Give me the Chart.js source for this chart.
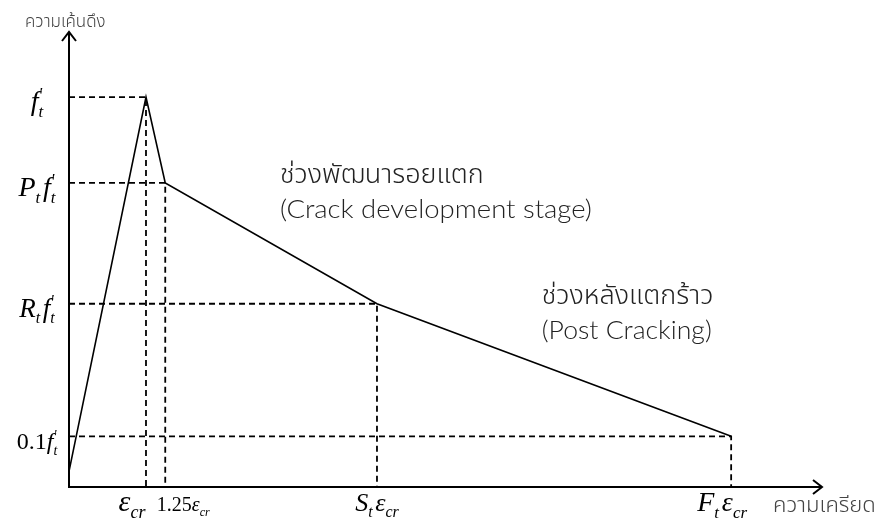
<!DOCTYPE html>
<html lang="th">
<head>
<meta charset="utf-8">
<script src="https://cdn.jsdelivr.net/npm/chart.js@4.4.1/dist/chart.umd.min.js"></script>
<style>
  html, body { margin: 0; padding: 0; background: #ffffff; }
  #contenedor { width: 880px; height: 530px; }
</style>
</head>
<body>
<div id="contenedor"><canvas id="graficoTraccion" width="880" height="530"></canvas></div>
<script>
// deformacion (multiplos de e_cr) y esfuerzo (multiplos de f't)
const deformaciones = [0, 1, 1.25, 4, 8.6];
const esfuerzos = [0.04, 1, 0.78, 0.47, 0.13];

const valoresEtiquetasY = [1, 0.78, 0.47, 0.13];
const etiquetasY = ["f^'_t", "P_tf^'_t", "R_tf^'_t", "0.1f^'_t"];
const valoresEtiquetasX = [1, 1.25, 4, 8.6];
const etiquetasX = ["ε_{cr}", "1.25ε_{cr}", "S_tε_{cr}", "F_tε_{cr}"];

const tituloEjeY = "ความเค้นดึง";
const tituloEjeX = "ความเครียด";
const textosTramos = [
  ["ช่วงพัฒนารอยแตก", "(Crack development stage)"],
  ["ช่วงหลังแตกร้าว", "(Post Cracking)"],
];

// estilos de los rotulos (no son datos)
const TAMANOS_Y = [28, 28, 27, 24];
const TAMANOS_X = [30, 20, 26, 28];
const DESPLAZAMIENTOS_X = [-14, 18, 0, -9];
const ANCLAS_TRAMOS = [
  { x: 2.74, y: 0.80, anchoIngles: 312 },
  { x: 6.14, y: 0.49, anchoIngles: 170 },
];

const FUENTE_TEXTO = '"Noto Sans", "Noto Sans Thai", "Open Sans", sans-serif';
const FUENTE_INGLES = '"Lato", "Open Sans", sans-serif';

const puntosCurva = deformaciones.map((d, i) => ({ x: d, y: esfuerzos[i] }));

const puntosGuia = [];
deformaciones.forEach((d, i) => {
  if (i === 0) return;
  puntosGuia.push({ x: 0, y: esfuerzos[i] });
  puntosGuia.push({ x: d, y: esfuerzos[i] });
  puntosGuia.push({ x: d, y: 0 });
  puntosGuia.push({ x: d, y: null });
});

const partirFormula = (formula) => {
  const partes = [];
  let i = 0;
  while (i < formula.length) {
    const c = formula[i];
    if (c === "^" || c === "_") {
      let grupo;
      if (formula[i + 1] === "{") {
        const fin = formula.indexOf("}", i);
        grupo = formula.slice(i + 2, fin);
        i = fin + 1;
      } else {
        grupo = formula[i + 1];
        i += 2;
      }
      partes.push({ texto: grupo, tipo: c === "^" ? "sup" : "sub" });
    } else {
      partes.push({ texto: c, tipo: "base" });
      i += 1;
    }
  }
  return partes;
};

const fuenteFormula = (texto, tam) => {
  const recta = /^[0-9.]+$/.test(texto);
  return `${recta ? "" : "italic "}${tam}px "Liberation Serif", "DejaVu Serif", serif`;
};

const dibujarFormula = (ctx, formula, x, base, tam, alinear) => {
  const partes = partirFormula(formula);
  const ubicadas = [];
  let cursor = 0;
  let anchoPendiente = 0;

  partes.forEach((p, i) => {
    const t = p.tipo === "base" ? tam : Math.round(tam * 0.6);
    ctx.font = fuenteFormula(p.texto, t);
    const ancho = ctx.measureText(p.texto).width;
    const dy = p.tipo === "sup" ? -tam * 0.4 : p.tipo === "sub" ? tam * 0.24 : 0;
    ubicadas.push({ ...p, t, dx: cursor, dy });
    const apilar = p.tipo === "sup" && partes[i + 1]?.tipo === "sub";
    if (apilar) {
      anchoPendiente = ancho;
    } else {
      cursor += Math.max(ancho, anchoPendiente);
      anchoPendiente = 0;
      // un poco de aire tras el subindice
      if (p.tipo === "sub" && partes[i + 1]) cursor += tam * 0.1;
    }
  });

  const inicio = alinear === "right" ? x - cursor : alinear === "center" ? x - cursor / 2 : x;
  ctx.textAlign = "left";
  ctx.textBaseline = "alphabetic";
  ubicadas.forEach((p) => {
    ctx.font = fuenteFormula(p.texto, p.t);
    ctx.fillText(p.texto, inicio + p.dx, base + p.dy);
  });
};

const textoEstirado = (ctx, texto, x, y, ancho) => {
  const medido = ctx.measureText(texto).width;
  ctx.save();
  ctx.translate(x, y);
  ctx.scale(ancho / medido, 1);
  ctx.fillText(texto, 0, 0);
  ctx.restore();
};

const ejesConFlechas = {
  id: "ejesConFlechas",
  afterDatasetsDraw(chart) {
    const { ctx, scales: { x, y } } = chart;
    const x0 = x.getPixelForValue(0);
    const y0 = y.getPixelForValue(0);
    const xFin = x.getPixelForValue(x.max);
    const yFin = y.getPixelForValue(y.max);

    ctx.save();
    ctx.strokeStyle = "#000000";
    ctx.lineWidth = 2;
    ctx.beginPath();
    ctx.moveTo(x0, yFin);
    ctx.lineTo(x0, y0);
    ctx.lineTo(xFin, y0);
    ctx.stroke();

    ctx.beginPath();
    ctx.moveTo(x0 - 7, yFin + 9);
    ctx.lineTo(x0, yFin);
    ctx.lineTo(x0 + 7, yFin + 9);
    ctx.moveTo(xFin - 9, y0 - 7);
    ctx.lineTo(xFin, y0);
    ctx.lineTo(xFin - 9, y0 + 7);
    ctx.stroke();
    ctx.restore();
  },
};

const rotulos = {
  id: "rotulos",
  afterDraw(chart) {
    const { ctx, scales: { x, y } } = chart;
    const x0 = x.getPixelForValue(0);
    const y0 = y.getPixelForValue(0);

    ctx.save();
    ctx.fillStyle = "#000000";

    etiquetasY.forEach((formula, i) => {
      const py = y.getPixelForValue(valoresEtiquetasY[i]);
      dibujarFormula(ctx, formula, x0 - 32, py + 13, TAMANOS_Y[i], "center");
    });

    etiquetasX.forEach((formula, i) => {
      const px = x.getPixelForValue(valoresEtiquetasX[i]) + DESPLAZAMIENTOS_X[i];
      dibujarFormula(ctx, formula, px, y0 + 24, TAMANOS_X[i], "center");
    });

    ctx.fillStyle = "#444444";
    ctx.textAlign = "left";
    ctx.textBaseline = "middle";
    ctx.font = `300 17px ${FUENTE_TEXTO}`;
    ctx.fillText(tituloEjeY, 25, 22);
    ctx.font = `300 22px ${FUENTE_TEXTO}`;
    ctx.fillText(tituloEjeX, 773, y0 + 19);

    ctx.fillStyle = "#222222";
    textosTramos.forEach(([thai, ingles], i) => {
      const ancla = ANCLAS_TRAMOS[i];
      const px = x.getPixelForValue(ancla.x);
      const py = y.getPixelForValue(ancla.y);
      ctx.font = `300 27px ${FUENTE_TEXTO}`;
      ctx.fillText(thai, px, py);
      ctx.font = `300 25px ${FUENTE_INGLES}`;
      textoEstirado(ctx, ingles, px, py + 35, ancla.anchoIngles);
    });
    ctx.restore();
  },
};

const inicializarGraficoTraccion = () => {
  const canvas = document.getElementById("graficoTraccion");
  if (!canvas || !window.Chart) return;

  new Chart(canvas, {
    type: "scatter",
    data: {
      datasets: [
        {
          data: puntosCurva,
          showLine: true,
          borderColor: "#000000",
          borderWidth: 1.6,
          pointRadius: 0,
          tension: 0,
        },
        {
          data: puntosGuia,
          showLine: true,
          borderColor: "#000000",
          borderWidth: 1.8,
          borderDash: [6, 4],
          pointRadius: 0,
          spanGaps: false,
        },
      ],
    },
    options: {
      responsive: false,
      animation: false,
      layout: { padding: { left: 69, right: 58, top: 32, bottom: 43 } },
      scales: {
        x: { type: "linear", min: 0, max: 9.78, display: false },
        y: { type: "linear", min: 0, max: 1.167, display: false },
      },
      plugins: {
        legend: { display: false },
        tooltip: { enabled: false },
      },
    },
    plugins: [ejesConFlechas, rotulos],
  });
};

inicializarGraficoTraccion();
</script>
</body>
</html>
